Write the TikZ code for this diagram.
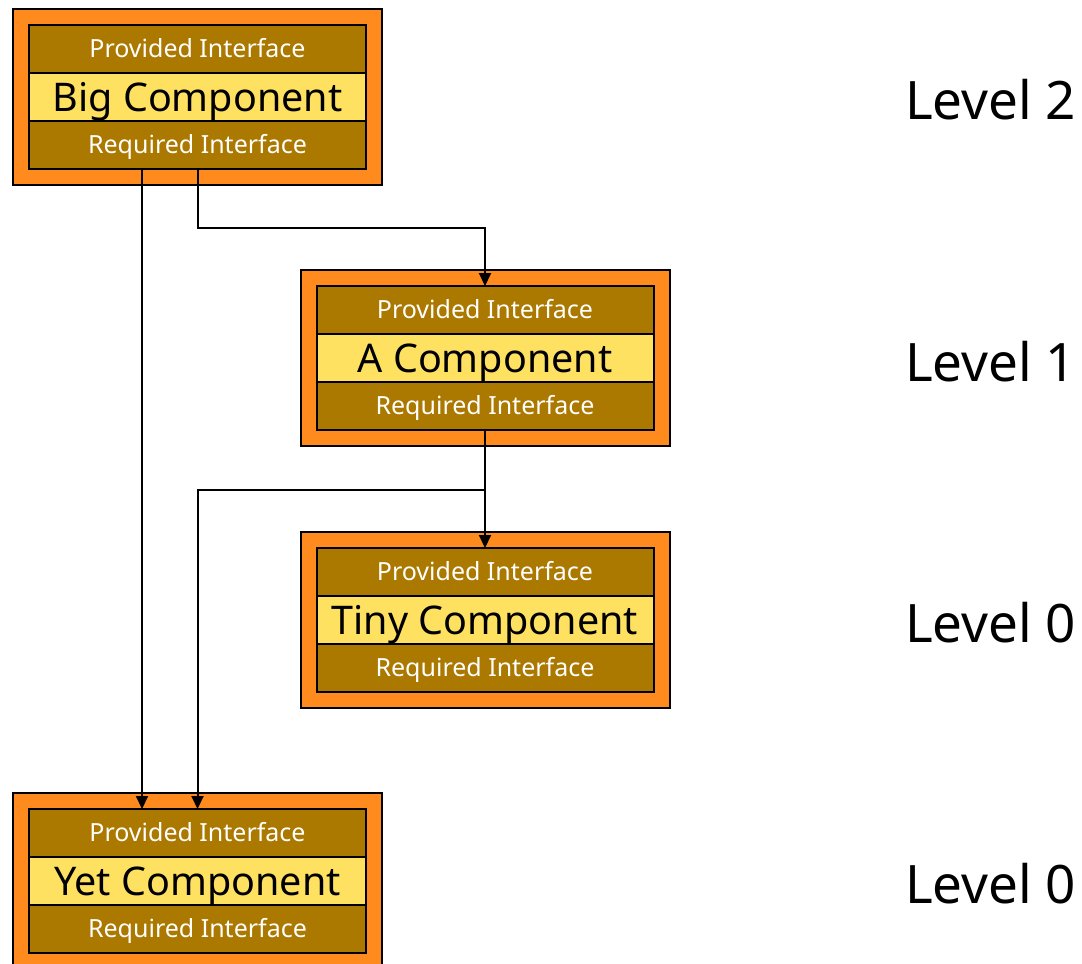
\documentclass[tikz,border=0pt]{standalone}
\usepackage{fontspec}
\setmainfont{Noto Sans}
\usetikzlibrary{arrows.meta, positioning, fit, backgrounds}
\definecolor{MyOrange}{HTML}{FF8A1E}
\definecolor{MyBrown}{HTML}{AB7800}
\definecolor{MyYellow}{HTML}{FFE162}

\begin{document}
\begin{tikzpicture}[x=1pt, y=1pt,
			every node/.style={align=center, inner sep=0pt, outer sep=0pt},
			row/.style={draw, line width=2pt, minimum width=337pt, minimum height=48pt, text depth=0pt},
			iface/.style={row, fill=MyBrown, text=white, text height=17.8pt, font=\fontsize{25}{25}\selectfont},
			comp/.style={row, fill=MyYellow, text height=28.2pt, font=\fontsize{39.5}{39.5}\selectfont},
			frame/.style={draw, line width=2pt, fill=MyOrange, inner sep=16pt},
			level/.style={anchor=base west, font=\fontsize{53}{53}\selectfont},
			link/.style={line width=2pt, -{Triangle[length=13pt, width=12pt]}}
		]
			\useasboundingbox (0,0) rectangle (1082,-964);

			\node (bigprov) [iface] at (197.5,-49) {Provided Interface};
			\node (bigname) [comp, below=0pt of bigprov] {Big Component};
			\node (bigreq) [iface, below=0pt of bigname] {Required Interface};

			\node (aprov) [iface] at (485,-310) {Provided Interface};
			\node (aname) [comp, below=0pt of aprov] {A Component};
			\node (areq) [iface, below=0pt of aname] {Required Interface};

			\node (tinyprov) [iface] at (485,-572) {Provided Interface};
			\node (tinyname) [comp, below=0pt of tinyprov] {Tiny Component};
			\node (tinyreq) [iface, below=0pt of tinyname] {Required Interface};

			\node (yetprov) [iface] at (197.5,-833) {Provided Interface};
			\node (yetname) [comp, below=0pt of yetprov] {Yet Component};
			\node (yetreq) [iface, below=0pt of yetname] {Required Interface};

			\node (level2) [level] at (905,-119) {Level 2};
			\node (level1) [level] at (905,-381) {Level 1};
			\node (level0a) [level] at (905,-642) {Level 0};
			\node (level0b) [level] at (905,-903) {Level 0};

			\begin{scope}[on background layer]
				\node (big) [frame, fit={(bigprov) (bigreq)}] {};
				\node (acomp) [frame, fit={(aprov) (areq)}] {};
				\node (tiny) [frame, fit={(tinyprov) (tinyreq)}] {};
				\node (yet) [frame, fit={(yetprov) (yetreq)}] {};
			\end{scope}

			\coordinate (split) at ([yshift=-60pt]areq.south);

			\draw[link] ([xshift=-55.5pt]bigreq.south) -- ([xshift=-55.5pt]yetprov.north);
			\draw[link] (bigreq.south) -- ++(0,-59) -| (aprov.north);
			\draw[link] (areq.south) -- (tinyprov.north);
			\draw[link] (split) -| (yetprov.north);
		\end{tikzpicture}
\end{document}
